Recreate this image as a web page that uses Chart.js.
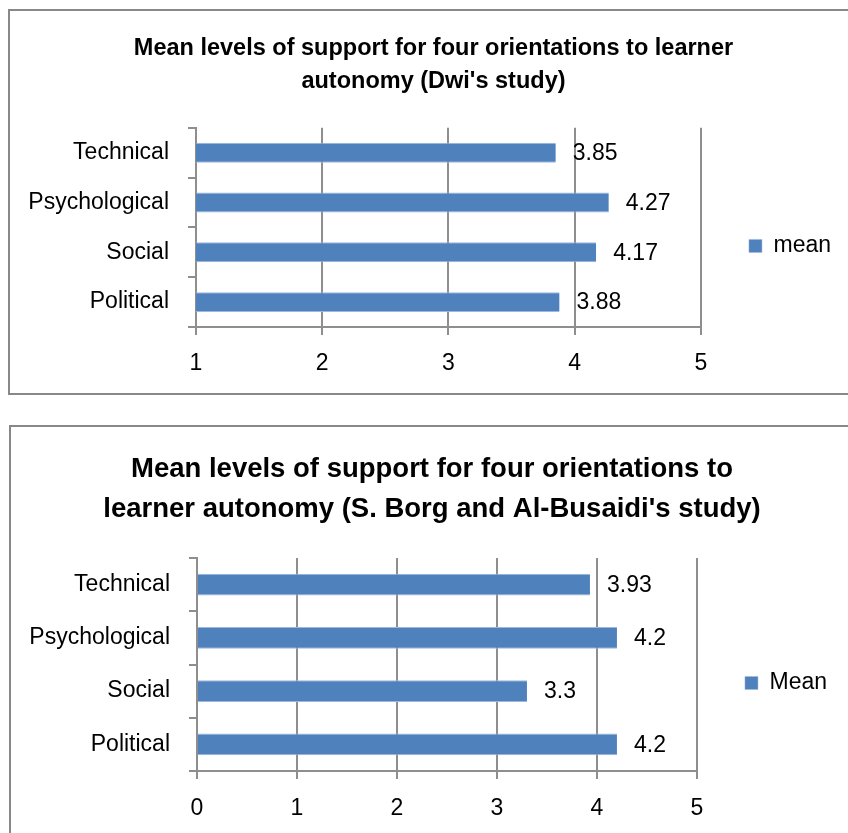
<!DOCTYPE html>
<html>
<head>
<meta charset="utf-8">
<script src="https://cdn.jsdelivr.net/npm/chart.js@4.4.0/dist/chart.umd.min.js"></script>
<style>
  body { margin: 0; background: #fff; overflow: hidden; }
  .box { position: absolute; border: 2px solid #888; }
  #box1 { left: 8px; top: 9px; width: 860px; height: 382px; }
  #box2 { left: 9px; top: 425px; width: 860px; height: 430px; }
  canvas { position: absolute; }
  #chart1 { left: 10px; top: 11px; }
  #chart2 { left: 11px; top: 427px; }
</style>
</head>
<body>
<div class="box" id="box1"></div>
<div class="box" id="box2"></div>
<canvas id="chart1" width="838" height="382"></canvas>
<canvas id="chart2" width="837" height="406"></canvas>
<script>
const categories = ["Technical", "Psychological", "Social", "Political"];
const dwiMeans = [3.85, 4.27, 4.17, 3.88];
const borgMeans = [3.93, 4.2, 3.3, 4.2];
const dwiTicks = [1, 2, 3, 4, 5];
const borgTicks = [0, 1, 2, 3, 4, 5];

const font = "'Liberation Sans', Arial, sans-serif";
const gridColor = "#8e8e8e";
const barColor = "#4f81bd";

// values written just right of each bar
const valueLabels = {
	id: "valueLabels",
	afterDatasetsDraw(chart) {
		const ctx = chart.ctx;
		const meta = chart.getDatasetMeta(0);
		ctx.save();
		ctx.font = "23px " + font;
		ctx.fillStyle = "#000";
		ctx.textAlign = "left";
		ctx.textBaseline = "middle";
		meta.data.forEach((bar, i) => {
			ctx.fillText(String(chart.data.datasets[0].data[i]), bar.x + 17, bar.y + 1);
		});
		ctx.restore();
	}
};

function makeChart(id, opts) {
	return new Chart(document.getElementById(id), {
		type: "bar",
		data: {
			labels: categories,
			datasets: [
				{
					label: opts.series,
					data: opts.values,
					backgroundColor: barColor,
					borderColor: "#9db7dd",
					borderWidth: { top: 1, bottom: 1, left: 0, right: 0 },
					borderSkipped: false,
					categoryPercentage: 1,
					barPercentage: opts.barPct
				}
			]
		},
		options: {
			indexAxis: "y",
			responsive: false,
			animation: false,
			layout: { padding: { left: opts.padL, right: opts.padR, top: 0, bottom: 0 } },
			plugins: {
				title: {
					display: true,
					text: opts.title,
					color: "#000",
					font: { family: font, size: opts.titleSize, weight: "bold", lineHeight: opts.titleLH },
					padding: { top: opts.titleTop, bottom: opts.titleBottom }
				},
				legend: {
					position: "right",
					fullSize: false,
					title: { display: true, text: "", font: { size: 10, lineHeight: 1 }, padding: { top: 27, bottom: 0 } },
					labels: {
						boxWidth: 13,
						boxHeight: 13,
						padding: 48,
						color: "#000",
						font: { family: font, size: 23 }
					}
				},
				tooltip: { enabled: false }
			},
			scales: {
				x: {
					min: opts.ticks[0],
					max: opts.ticks[opts.ticks.length - 1],
					afterBuildTicks(scale) {
						scale.ticks = opts.ticks.map(v => ({ value: v }));
					},
					afterFit(scale) {
						scale.height = opts.xHeight;
					},
					grid: { color: gridColor, lineWidth: 2, tickLength: 8 },
					border: { color: gridColor, width: 2 },
					ticks: { color: "#000", padding: opts.xPad, font: { family: font, size: 23 } }
				},
				y: {
					afterFit(scale) {
						scale.width = opts.yWidth;
					},
					grid: { drawOnChartArea: false, color: gridColor, lineWidth: 2, tickLength: 8 },
					border: { color: gridColor, width: 2 },
					ticks: { color: "#000", padding: 19, font: { family: font, size: 23 } }
				}
			}
		},
		plugins: [valueLabels]
	});
}

makeChart("chart1", {
	series: "mean",
	values: dwiMeans,
	ticks: dwiTicks,
	title: ["Mean levels of support for four orientations to learner", "autonomy (Dwi's study)"],
	titleSize: 23.5,
	titleLH: 1.4,
	titleTop: 21.5,
	titleBottom: 29.5,
	barPct: 0.4,
	padL: 16,
	padR: 7,
	yWidth: 170,
	xHeight: 66,
	xPad: 15
});

makeChart("chart2", {
	series: "Mean",
	values: borgMeans,
	ticks: borgTicks,
	title: ["Mean levels of support for four orientations to", "learner autonomy (S. Borg and Al-Busaidi's study)"],
	titleSize: 27.5,
	titleLH: 1.455,
	titleTop: 22,
	titleBottom: 29,
	barPct: 0.41,
	padL: 16,
	padR: 11,
	yWidth: 170,
	xHeight: 62,
	xPad: 16
});
</script>
</body>
</html>
